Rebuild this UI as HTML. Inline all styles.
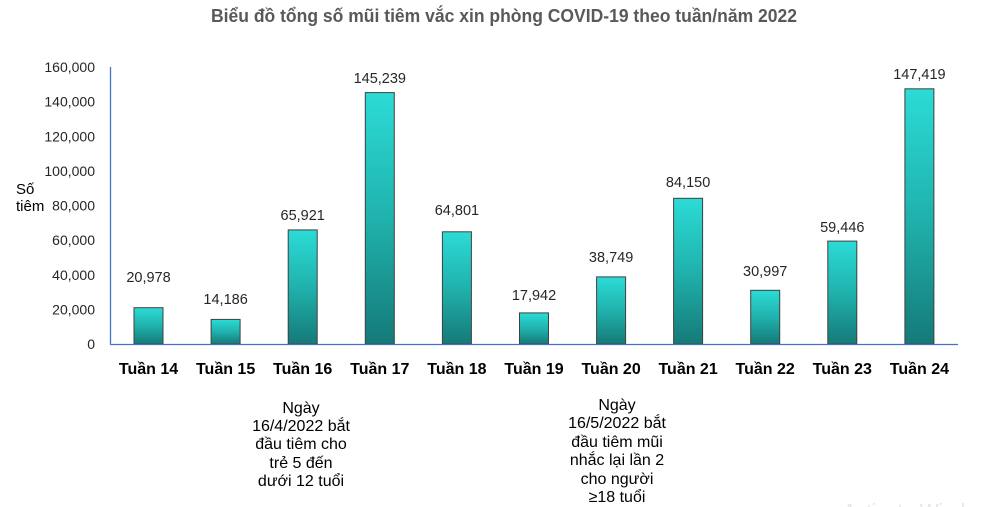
<!DOCTYPE html>
<html><head><meta charset="utf-8"><style>
html,body{margin:0;padding:0;background:#fff;}
svg{display:block;}
</style></head><body>
<svg width="988" height="507" viewBox="0 0 988 507" xmlns="http://www.w3.org/2000/svg">
<defs>
<linearGradient id="g" x1="0" y1="0" x2="0" y2="1">
<stop offset="0" stop-color="#2cdbd6"/>
<stop offset="0.5" stop-color="#20b2ad"/>
<stop offset="1" stop-color="#157a78"/>
</linearGradient>
</defs>
<rect width="988" height="507" fill="#fff"/>
<text x="504" y="22" text-anchor="middle" font-family="'Liberation Sans', sans-serif" font-weight="bold" font-size="18" fill="#595959" textLength="586" lengthAdjust="spacingAndGlyphs">Biểu đồ tổng số mũi tiêm vắc xin phòng COVID-19 theo tuần/năm 2022</text>

<g font-family="'Liberation Sans', sans-serif" font-size="14" fill="#262626" text-anchor="end">
<text x="95" y="72">160,000</text>
<text x="95" y="106.6">140,000</text>
<text x="95" y="141.3">120,000</text>
<text x="95" y="175.9">100,000</text>
<text x="95" y="210.5">80,000</text>
<text x="95" y="245.1">60,000</text>
<text x="95" y="279.8">40,000</text>
<text x="95" y="314.4">20,000</text>
<text x="95" y="349">0</text>
</g>
<g font-family="'Liberation Sans', sans-serif" font-size="15" fill="#000">
<text x="16" y="194">Số</text>
<text x="16" y="211">tiêm</text>
</g>

<g fill="url(#g)" stroke="#404040" stroke-width="1">
<rect x="134" y="307.7" width="29" height="36.3"/>
<rect x="211.1" y="319.4" width="29" height="24.6"/>
<rect x="288.2" y="229.9" width="29" height="114.1"/>
<rect x="365.3" y="92.6" width="29" height="251.4"/>
<rect x="442.4" y="231.8" width="29" height="112.2"/>
<rect x="519.5" y="312.9" width="29" height="31.1"/>
<rect x="596.6" y="276.9" width="29" height="67.1"/>
<rect x="673.6" y="198.3" width="29" height="145.7"/>
<rect x="750.7" y="290.3" width="29" height="53.7"/>
<rect x="827.8" y="241.1" width="29" height="102.9"/>
<rect x="904.9" y="88.8" width="29" height="255.2"/>
</g>

<line x1="110.5" y1="67" x2="110.5" y2="344.5" stroke="#4472c4" stroke-width="1.3"/>
<line x1="110" y1="344.5" x2="958" y2="344.5" stroke="#4472c4" stroke-width="1.3"/>

<g font-family="'Liberation Sans', sans-serif" font-size="14.5" fill="#262626" text-anchor="middle">
<text x="148.5" y="282">20,978</text>
<text x="225.6" y="304">14,186</text>
<text x="302.7" y="220">65,921</text>
<text x="379.8" y="83">145,239</text>
<text x="456.9" y="215">64,801</text>
<text x="534" y="300">17,942</text>
<text x="611.1" y="262">38,749</text>
<text x="688.1" y="187">84,150</text>
<text x="765.2" y="276">30,997</text>
<text x="842.3" y="232">59,446</text>
<text x="919.4" y="79">147,419</text>
</g>

<g font-family="'Liberation Sans', sans-serif" font-size="16" font-weight="bold" fill="#000" text-anchor="middle">
<text x="148.5" y="374">Tuần 14</text>
<text x="225.6" y="374">Tuần 15</text>
<text x="302.7" y="374">Tuần 16</text>
<text x="379.8" y="374">Tuần 17</text>
<text x="456.9" y="374">Tuần 18</text>
<text x="534" y="374">Tuần 19</text>
<text x="611.1" y="374">Tuần 20</text>
<text x="688.1" y="374">Tuần 21</text>
<text x="765.2" y="374">Tuần 22</text>
<text x="842.3" y="374">Tuần 23</text>
<text x="919.4" y="374">Tuần 24</text>
</g>

<g font-family="'Liberation Sans', sans-serif" font-size="16" fill="#000" text-anchor="middle">
<text x="301" y="413">Ngày</text>
<text x="301" y="431">16/4/2022 bắt</text>
<text x="301" y="449">đầu tiêm cho</text>
<text x="301" y="468">trẻ 5 đến</text>
<text x="301" y="486">dưới 12 tuổi</text>

<text x="617" y="410">Ngày</text>
<text x="617" y="428">16/5/2022 bắt</text>
<text x="617" y="447">đầu tiêm mũi</text>
<text x="617" y="465">nhắc lại lần 2</text>
<text x="617" y="484">cho người</text>
<text x="617" y="502">≥18 tuổi</text>
</g>

<text x="843" y="518" font-family="'Liberation Sans', sans-serif" font-size="20" fill="#e6e6e6">Activate Windows</text>
</svg>
</body></html>
